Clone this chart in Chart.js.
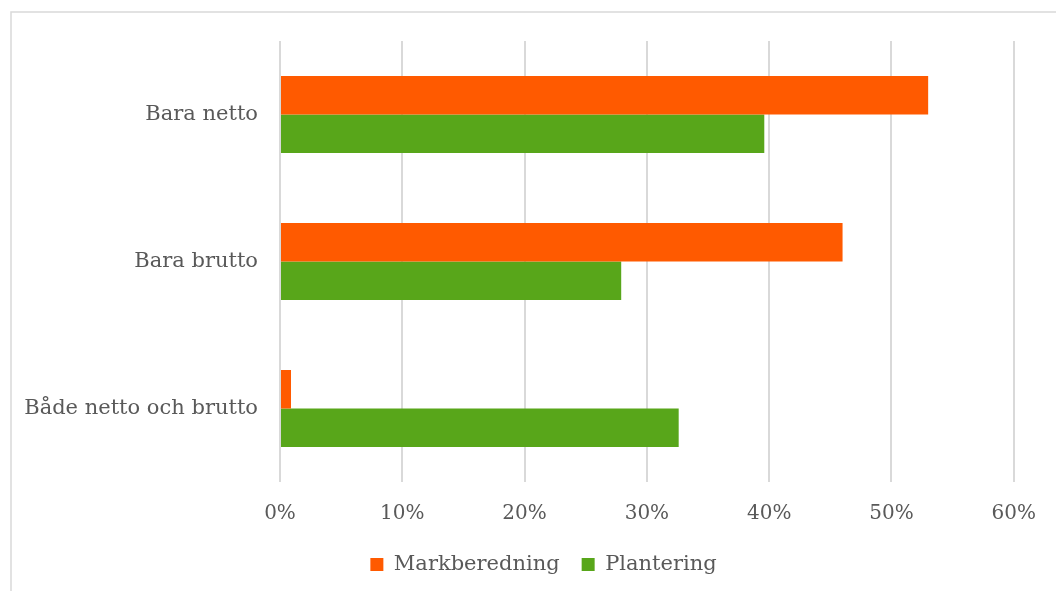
<!DOCTYPE html>
<html>
<head>
<meta charset="utf-8">
<script src="https://cdn.jsdelivr.net/npm/chart.js@4/dist/chart.umd.min.js"></script>
<style>
  html, body { margin: 0; padding: 0; background: #fff; overflow: hidden; }
  #wrap { width: 1056px; height: 591px; position: relative; }
</style>
</head>
<body>
<div id="wrap"><canvas id="c" width="1056" height="591"></canvas></div>
<script>
// Categories and series
const categories = ['Bara netto', 'Bara brutto', 'Både netto och brutto'];
const markberedning = [53.0, 46.0, 0.9];
const plantering = [39.6, 27.9, 32.6];
const seriesNames = ['Markberedning', 'Plantering'];
const xTicks = [0, 10, 20, 30, 40, 50, 60];

const FONT = "'DejaVu Serif', Georgia, serif";
const TEXT = '#595959';
const GRID = '#d9d9d9';

// Thin frame around the chart (left and top edges visible)
const framePlugin = {
  id: 'frame',
  beforeDraw(chart) {
    const ctx = chart.ctx;
    ctx.save();
    ctx.strokeStyle = GRID;
    ctx.lineWidth = 1.5;
    ctx.beginPath();
    ctx.moveTo(11, 591);
    ctx.lineTo(11, 12);
    ctx.lineTo(1056, 12);
    ctx.stroke();
    ctx.restore();
  }
};

// Put the legend's centre at a fixed horizontal position
const LEGEND_CENTER_X = 543.5;
const legendShift = {
  id: 'legendShift',
  afterLayout(chart) {
    const lg = chart.legend;
    if (!lg) return;
    const dx = LEGEND_CENTER_X - (lg.left + lg.right) / 2;
    lg.left += dx;
    lg.right += dx;
  }
};

new Chart(document.getElementById('c'), {
  type: 'bar',
  data: {
    labels: categories,
    datasets: [
      { label: seriesNames[0], data: markberedning, backgroundColor: '#FF5A00' },
      { label: seriesNames[1], data: plantering, backgroundColor: '#58A61A' }
    ]
  },
  options: {
    indexAxis: 'y',
    responsive: false,
    animation: false,
    devicePixelRatio: 1,
    categoryPercentage: 0.524,
    barPercentage: 1.0,
    layout: { padding: { left: 0, right: 41, top: 41, bottom: 6 } },
    plugins: {
      legend: {
        position: 'bottom',
        labels: {
          font: { family: FONT, size: 21 },
          color: TEXT,
          boxWidth: 13,
          boxHeight: 13,
          padding: 22
        }
      },
      tooltip: { enabled: false }
    },
    scales: {
      x: {
        min: 0,
        max: 60,
        afterBuildTicks(scale) { scale.ticks = xTicks.map(v => ({ value: v })); },
        afterFit(scale) { scale.height = 50; },
        grid: { color: GRID, lineWidth: 2, drawTicks: false },
        border: { display: false },
        ticks: {
          padding: 20,
          color: TEXT,
          font: { family: FONT, size: 20 },
          callback: v => v + '%'
        }
      },
      y: {
        afterFit(scale) { scale.width = 280; },
        grid: { display: false, drawTicks: false },
        border: { display: false },
        ticks: {
          padding: 22,
          color: TEXT,
          font: { family: FONT, size: 21 }
        }
      }
    }
  },
  plugins: [framePlugin, legendShift]
});
</script>
</body>
</html>
